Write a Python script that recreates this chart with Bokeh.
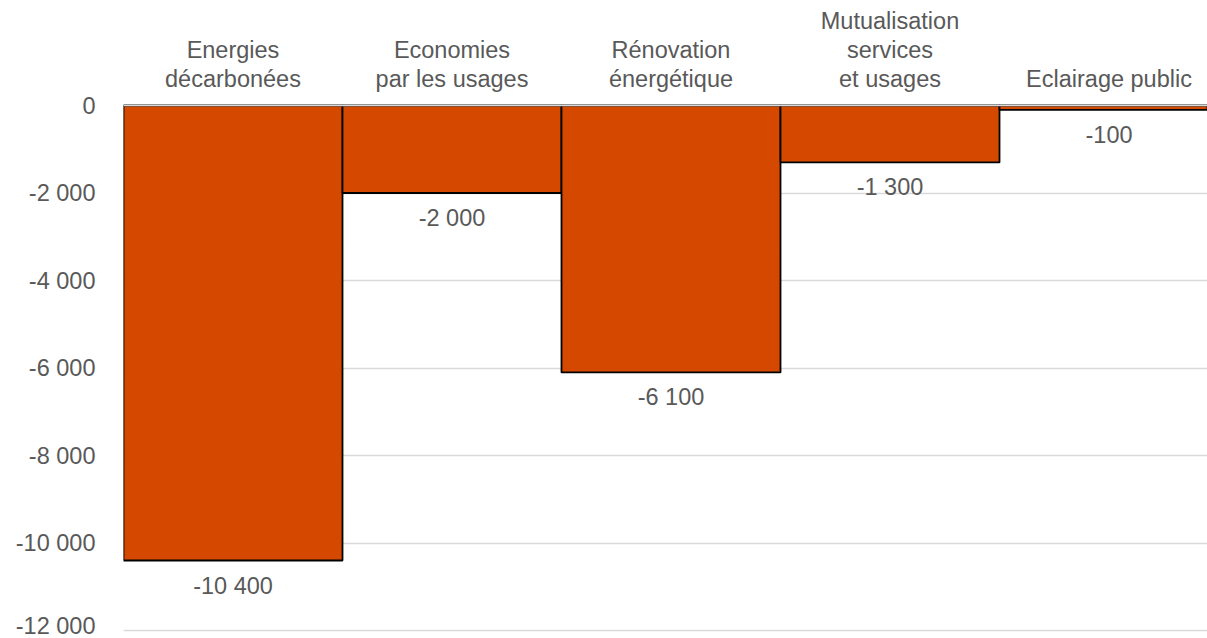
from bokeh.plotting import figure
from bokeh.models import (ColumnDataSource, Range1d, LinearAxis, FixedTicker, Span)
from bokeh.core.properties import value
from bokeh.embed import file_html
from bokeh.resources import INLINE

# Levier de réduction et gain associé
categories = ["Energies\ndécarbonées", "Economies\npar les usages", "Rénovation\nénergétique",
              "Mutualisation\nservices\net usages", "Eclairage public"]
values = [-10400, -2000, -6100, -1300, -100]
value_labels = ["-10 400", "-2 000", "-6 100", "-1 300", "-100"]
y_ticks = [0, -2000, -4000, -6000, -8000, -10000, -12000]
y_tick_labels = ["0", "-2 000", "-4 000", "-6 000", "-8 000", "-10 000", "-12 000"]

FONT = "Liberation Sans"
GREY = "#595959"
BAR = "#D54800"
FS = "23.5px"

centers = [i + 0.5 for i in range(len(values))]
src = ColumnDataSource(dict(x=centers, top=[0] * len(values), bottom=values, lab=value_labels))

p = figure(width=1207, height=638, output_backend="svg", toolbar_location=None,
           x_range=Range1d(0, 1084 / 219), y_range=Range1d(-12160, 160),
           min_border_left=123, min_border_right=0, min_border_top=98, min_border_bottom=1,
           x_axis_location=None, y_axis_location=None)
p.outline_line_color = None
p.background_fill_color = "white"
p.xgrid.visible = False

# vertical axis on the left
yax = LinearAxis(ticker=FixedTicker(ticks=y_ticks),
                 major_label_overrides={t: l for t, l in zip(y_ticks, y_tick_labels)})
yax.axis_line_color = None
yax.major_tick_line_color = None
yax.minor_tick_line_color = None
yax.major_tick_out = 0
yax.major_label_standoff = 28
yax.major_label_text_font = FONT
yax.major_label_text_font_size = FS
yax.major_label_text_color = GREY
p.add_layout(yax, "left")

# category names across the top
xax = LinearAxis(ticker=FixedTicker(ticks=centers),
                 major_label_overrides={c: n for c, n in zip(centers, categories)})
xax.axis_line_color = None
xax.major_tick_line_color = None
xax.minor_tick_line_color = None
xax.major_tick_out = 0
xax.major_label_standoff = 7
xax.major_label_text_font = FONT
xax.major_label_text_font_size = FS
xax.major_label_text_color = GREY
xax.major_label_text_line_height = 1.1
p.add_layout(xax, "above")

p.ygrid.ticker = FixedTicker(ticks=y_ticks)
p.ygrid.grid_line_color = "#D9D9D9"
p.ygrid.grid_line_width = 1.4

p.vbar(x="x", width=1, top="top", bottom="bottom", source=src,
       fill_color=BAR, line_color="black", line_width=1.8)

p.add_layout(Span(location=0, dimension="width", line_color="#D9D9D9",
                  line_width=1.5, level="overlay"))

p.text(x="x", y="bottom", text="lab", source=src, y_offset=25,
       text_align="center", text_baseline="middle",
       text_font=value(FONT), text_font_size=FS, text_color=GREY)

open("out.html", "w").write(file_html(p, INLINE))
